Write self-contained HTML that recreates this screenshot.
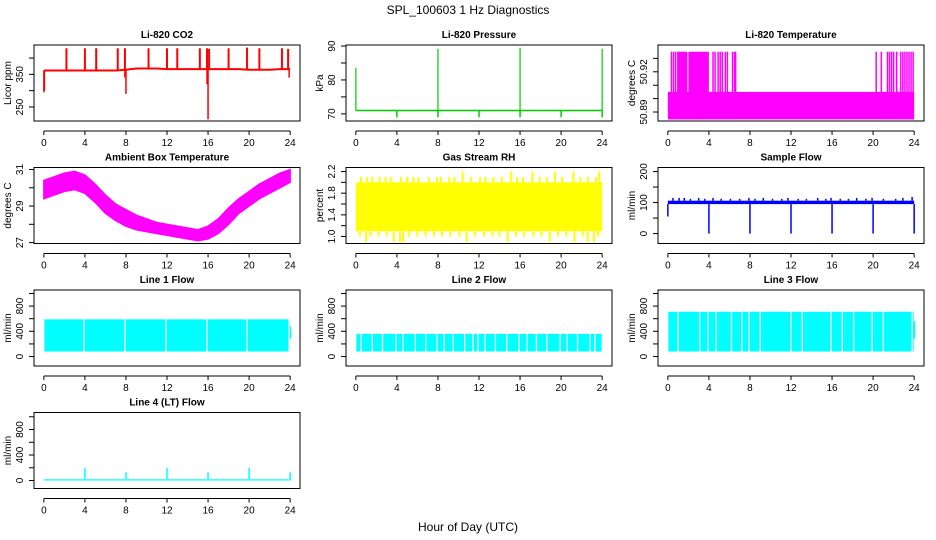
<!DOCTYPE html>
<html><head><meta charset="utf-8">
<style>
body{margin:0;background:#fff;}
svg{display:block;font-family:"Liberation Sans",Arial,sans-serif;}
</style></head>
<body>
<svg id="c" width="936" height="540" xmlns="http://www.w3.org/2000/svg">
<text x="468" y="14" text-anchor="middle" font-size="12">SPL_100603  1 Hz Diagnostics</text>
<text x="468" y="531" text-anchor="middle" font-size="12">Hour of Day (UTC)</text>
</svg>
<script>
// ---- data ----
const xTicks = [0,4,8,12,16,20,24];
const hours = [0,1,2,3,4,5,6,7,8,9,10,11,12,13,14,15,16,17,18,19,20,21,22,23,24];
// CO2
const co2Base = [362,362,362,362,362,362,362,362,364,368,368,368,366,366,366,366,366,366,366,366,364,364,364,366,366];
const co2SpikeT = [2.2,4.0,5.1,7.2,7.9,10.2,12.0,13.0,15.2,15.9,16.1,18.0,19.8,21.0,23.2,23.8];
const co2SpikeV = [430,430,430,430,430,430,430,430,430,430,428,430,432,430,430,428];
const co2DipT = [0.0,0.05,7.9,8.0,16.0,15.9,23.9];
const co2DipV = [295,300,340,290,212,320,340];
// Pressure
const presBase = [71,71,71,71,71,71,71,71,71,71,71,71,71,71,71,71,71,71,71,71,71,71,71,71,71];
const presSpikeT = [0.0,8.0,16.0,24.0];
const presSpikeV = [83.5,89.2,89.5,89.2];
const presDipT = [4.0,8.0,12.0,16.0,20.0,24.0];
const presDipV = [69,69,69,69,69,69];
// Li-820 temperature
const tempLo = 50.8845;
const tempBaseHi = 50.905;
const tempTop = 50.935;
const tempFullStart = [0.9,2.0];
const tempFullEnd = [1.9,4.0];
const tempSpikeT = [0.35,0.55,0.75,4.4,4.6,4.9,5.1,5.3,5.6,5.8,6.3,6.5,6.6,20.3,20.8,21.4,21.6,21.8,22.0,22.3,22.7,22.9,23.1,23.3,23.5,23.7,23.9];
// Ambient box temperature
const ambLo = [29.4,29.6,29.8,29.9,29.7,29.2,28.6,28.2,27.9,27.7,27.6,27.5,27.4,27.3,27.2,27.1,27.2,27.5,28.0,28.6,29.0,29.4,29.7,30.0,30.3];
const ambHi = [30.4,30.6,30.8,30.9,30.7,30.2,29.6,29.1,28.8,28.5,28.3,28.1,28.0,27.9,27.8,27.7,27.9,28.3,28.9,29.4,29.8,30.2,30.5,30.8,31.0];
// Gas stream RH
const rhLo = 1.1, rhHi = 2.0;
const rhUpT = [0.5,1.1,1.6,2.3,2.9,3.4,4.4,5.0,5.6,6.1,7.1,7.9,8.3,9.1,9.6,10.4,11.2,12.1,12.6,13.4,14.2,15.1,15.7,16.3,17.2,17.9,18.6,19.4,20.1,21.2,21.9,22.6,23.4,23.7];
const rhUpV = [2.1,2.1,2.1,2.1,2.1,2.1,2.1,2.1,2.1,2.1,2.1,2.1,2.1,2.1,2.1,2.2,2.1,2.1,2.1,2.1,2.1,2.2,2.1,2.1,2.2,2.1,2.1,2.2,2.1,2.2,2.1,2.1,2.1,2.2];
const rhDnT = [0.4,1.0,1.4,2.2,3.0,3.7,4.3,4.6,5.2,6.0,6.8,7.6,8.4,9.2,10.1,10.8,11.6,12.5,13.3,14.0,14.8,15.6,16.4,17.3,18.1,18.9,19.7,20.5,21.3,22.1,22.6,23.2,23.6];
const rhDnV = [1.0,0.9,1.0,1.0,1.0,0.9,0.9,0.9,1.0,1.0,1.0,1.0,1.0,1.0,1.0,0.9,1.0,1.0,1.0,1.0,0.9,1.0,1.0,1.0,1.0,0.9,1.0,1.0,0.9,1.0,0.9,0.9,1.0];
// Sample flow
const sfLo = 95, sfHi = 106;
const sfUpT = [0.5,1.1,1.6,2.2,3.0,3.6,4.4,5.2,6.1,7.0,7.9,8.5,9.3,10.2,11.1,11.7,12.7,13.5,14.6,15.4,15.9,16.8,17.6,18.4,19.3,19.9,21.0,22.2,22.9,23.8];
const sfUpV = [115,115,115,112,115,112,115,112,112,112,115,112,115,112,112,115,112,112,115,112,115,112,112,115,112,115,112,112,115,118];
const sfDipT = [0.0,4.0,8.0,12.0,16.0,20.0,24.0];
const sfDipV = [55,0,0,0,0,0,0];
// Line flows
const l1Lo = 80, l1Hi = 590, l1End = 480;
const l1GapT = [3.9,7.9,11.9,15.9,19.8,23.9];
const l2Lo = 80, l2Hi = 360, l2End = 260;
const l2GapT = [0.5,1.6,2.6,3.9,4.6,5.8,6.8,7.9,8.6,9.5,10.6,11.4,11.9,12.6,13.6,14.7,15.9,16.7,17.6,18.6,19.9,20.6,21.6,22.8,23.3];
const l3Lo = 80, l3Hi = 710, l3End = 560;
const l3GapT = [1.0,3.1,3.9,4.7,6.2,7.2,7.9,9.0,12.0,13.1,15.9,17.0,18.1,19.9,21.0,23.8];
const l4Base = 20;
const l4SpikeT = [4.0,8.0,12.0,16.0,20.0,24.0];
const l4SpikeV = [200,130,200,130,200,130];

// ---- layout ----
const svg = document.getElementById('c');
const NS = 'http://www.w3.org/2000/svg';
function mk(tag, attrs, parent){const e=document.createElementNS(NS,tag);for(const k in attrs)e.setAttribute(k,attrs[k]);(parent||svg).appendChild(e);return e;}

function panel(col,row,name,title,ylab,dom,ticks,labels){
  const L=34+312*col, R=L+266, T=45+122.5*row, B=T+76;
  const g=mk('g',{});
  
  
  const x=h=>L+9.85+h*(246.3/24);
  const y=v=>B-(v-dom[0])/(dom[1]-dom[0])*(B-T);
  const t=mk('text',{x:(L+R)/2,y:T-7,'text-anchor':'middle','font-size':'10','font-weight':'bold'},g);
  t.textContent=title;
  
  
  const plot=mk('g',{},g);
  
  
  const box=mk('rect',{x:L,y:T,width:R-L,height:B-T,fill:'none',stroke:'#000','stroke-width':1},g);
  
  
  const xa=mk('g',{},g);
  
  
  const ay=B+10;
  mk('line',{x1:x(0),x2:x(24),y1:ay,y2:ay,stroke:'#000'},xa);
  xTicks.forEach(v=>{
    mk('line',{x1:x(v),x2:x(v),y1:ay,y2:ay+4,stroke:'#000'},xa);
    const tl=mk('text',{x:x(v),y:ay+15,'text-anchor':'middle','font-size':'10'},xa);
    tl.textContent=v;
  });
  const ya=mk('g',{},g);
  
  
  mk('line',{x1:L,x2:L,y1:y(ticks[0]),y2:y(ticks[ticks.length-1]),stroke:'#000'},ya);
  ticks.forEach(v=>mk('line',{x1:L-5,x2:L,y1:y(v),y2:y(v),stroke:'#000'},ya));
  labels.forEach(v=>{
    const tl=mk('text',{x:0,y:0,'text-anchor':'middle','font-size':'10',transform:`translate(${L-11},${y(v)}) rotate(-90)`},ya);
    tl.textContent=v;
  });
  const yl=mk('text',{x:0,y:0,'text-anchor':'middle','font-size':'10',transform:`translate(${L-23},${(T+B)/2}) rotate(-90)`},g);
  yl.textContent=ylab;
  
  
  return {x,y,plot};
}
function vline(p,h,v1,v2,col,w){mk('line',{x1:p.x(h),x2:p.x(h),y1:p.y(v1),y2:p.y(v2),stroke:col,'stroke-width':w||1},p.plot);}
function band(p,h1,h2,v1,v2,col){mk('rect',{x:p.x(h1),y:p.y(v2),width:p.x(h2)-p.x(h1),height:p.y(v1)-p.y(v2),fill:col},p.plot);}
function pathLine(p,xs,vs,col,w){mk('polyline',{points:xs.map((h,i)=>p.x(h)+','+p.y(vs[i])).join(' '),fill:'none',stroke:col,'stroke-width':w||1},p.plot);}

const flowTicks=[0,200,400,600,800,1000], flowLabels=[0,400,800];

// CO2
let p=panel(0,0,'co2','Li-820 CO2','Licor ppm',[207,440],[250,300,350,400],[250,350]);
pathLine(p,hours,co2Base,'#ff0000',2);
co2SpikeT.forEach((h,i)=>vline(p,h,co2Base[Math.round(h)],co2SpikeV[i],'#ff0000',2));
co2DipT.forEach((h,i)=>vline(p,h,co2Base[Math.round(h)],co2DipV[i],'#ff0000',1.5));

// Pressure
p=panel(1,0,'pressure','Li-820 Pressure','kPa',[67.9,90.3],[70,75,80,85,90],[70,80,90]);
pathLine(p,hours,presBase,'#00cc00',1.5);
presSpikeT.forEach((h,i)=>vline(p,h,presBase[Math.round(h)],presSpikeV[i],'#00cc00',1.2));
presDipT.forEach((h,i)=>vline(p,h,presBase[Math.round(h)],presDipV[i],'#00cc00',1.5));

// Li-820 temperature
p=panel(2,0,'li820-temp','Li-820 Temperature','degrees C',[50.8833,50.94],[50.89,50.90,50.91,50.92,50.93],[50.89,50.92]);
band(p,0,24,tempLo,tempBaseHi,'#ff00ff');
tempFullStart.forEach((s,i)=>band(p,s,tempFullEnd[i],tempLo,tempTop,'#ff00ff'));
tempSpikeT.forEach(h=>vline(p,h,tempLo,tempTop,'#ff00ff',1.5));

// Ambient
p=panel(0,1,'ambient-temp','Ambient Box Temperature','degrees C',[26.95,31.11],[27,28,29,30,31],[27,29,31]);
mk('polygon',{points:hours.map((h,i)=>p.x(h)+','+p.y(ambHi[i])).concat(hours.slice().reverse().map((h,j)=>p.x(h)+','+p.y(ambLo[hours.length-1-j]))).join(' '),fill:'#ff00ff',stroke:'#ff00ff','stroke-width':1.5},p.plot);

// RH
p=panel(1,1,'gas-rh','Gas Stream RH','percent',[0.871,2.274],[1.0,1.2,1.4,1.6,1.8,2.0,2.2],['1.0','1.4','1.8','2.2']);
band(p,0,24,rhLo,rhHi,'#ffff00');
rhUpT.forEach((h,i)=>vline(p,h,rhHi,rhUpV[i],'#ffff00',2));
rhDnT.forEach((h,i)=>vline(p,h,rhLo,rhDnV[i],'#ffff00',2));

// Sample flow
p=panel(2,1,'sample-flow','Sample Flow','ml/min',[-32,213],[0,50,100,150,200],[0,100,200]);
band(p,0,24,sfLo,sfHi,'#0000ff');
sfUpT.forEach((h,i)=>vline(p,h,sfHi,sfUpV[i],'#0000ff',1.5));
sfDipT.forEach((h,i)=>vline(p,h,sfLo,sfDipV[i],'#0000ff',1.5));

// Line flows
function lineFlow(col,row,name,title,lo,hi,end,gaps){
  const q=panel(col,row,name,title,'ml/min',[-150,1055],flowTicks,flowLabels);
  band(q,0.05,23.95,lo,hi,'#00ffff');
  band(q,23.95,24.1,lo+200,end,'#00ffff');
  gaps.forEach(h=>vline(q,h,lo,hi,'#ffffff',1.3));
}
lineFlow(0,2,'line1-flow','Line 1 Flow',l1Lo,l1Hi,l1End,l1GapT);
lineFlow(1,2,'line2-flow','Line 2 Flow',l2Lo,l2Hi,l2End,l2GapT);
lineFlow(2,2,'line3-flow','Line 3 Flow',l3Lo,l3Hi,l3End,l3GapT);

// Line 4
p=panel(0,3,'line4-flow','Line 4 (LT) Flow','ml/min',[-125,1067],flowTicks,flowLabels);
band(p,0,24.1,0,l4Base,'#00ffff');
l4SpikeT.forEach((h,i)=>vline(p,h,l4Base,l4SpikeV[i],'#00ffff',1.5));
</script>
</body></html>
